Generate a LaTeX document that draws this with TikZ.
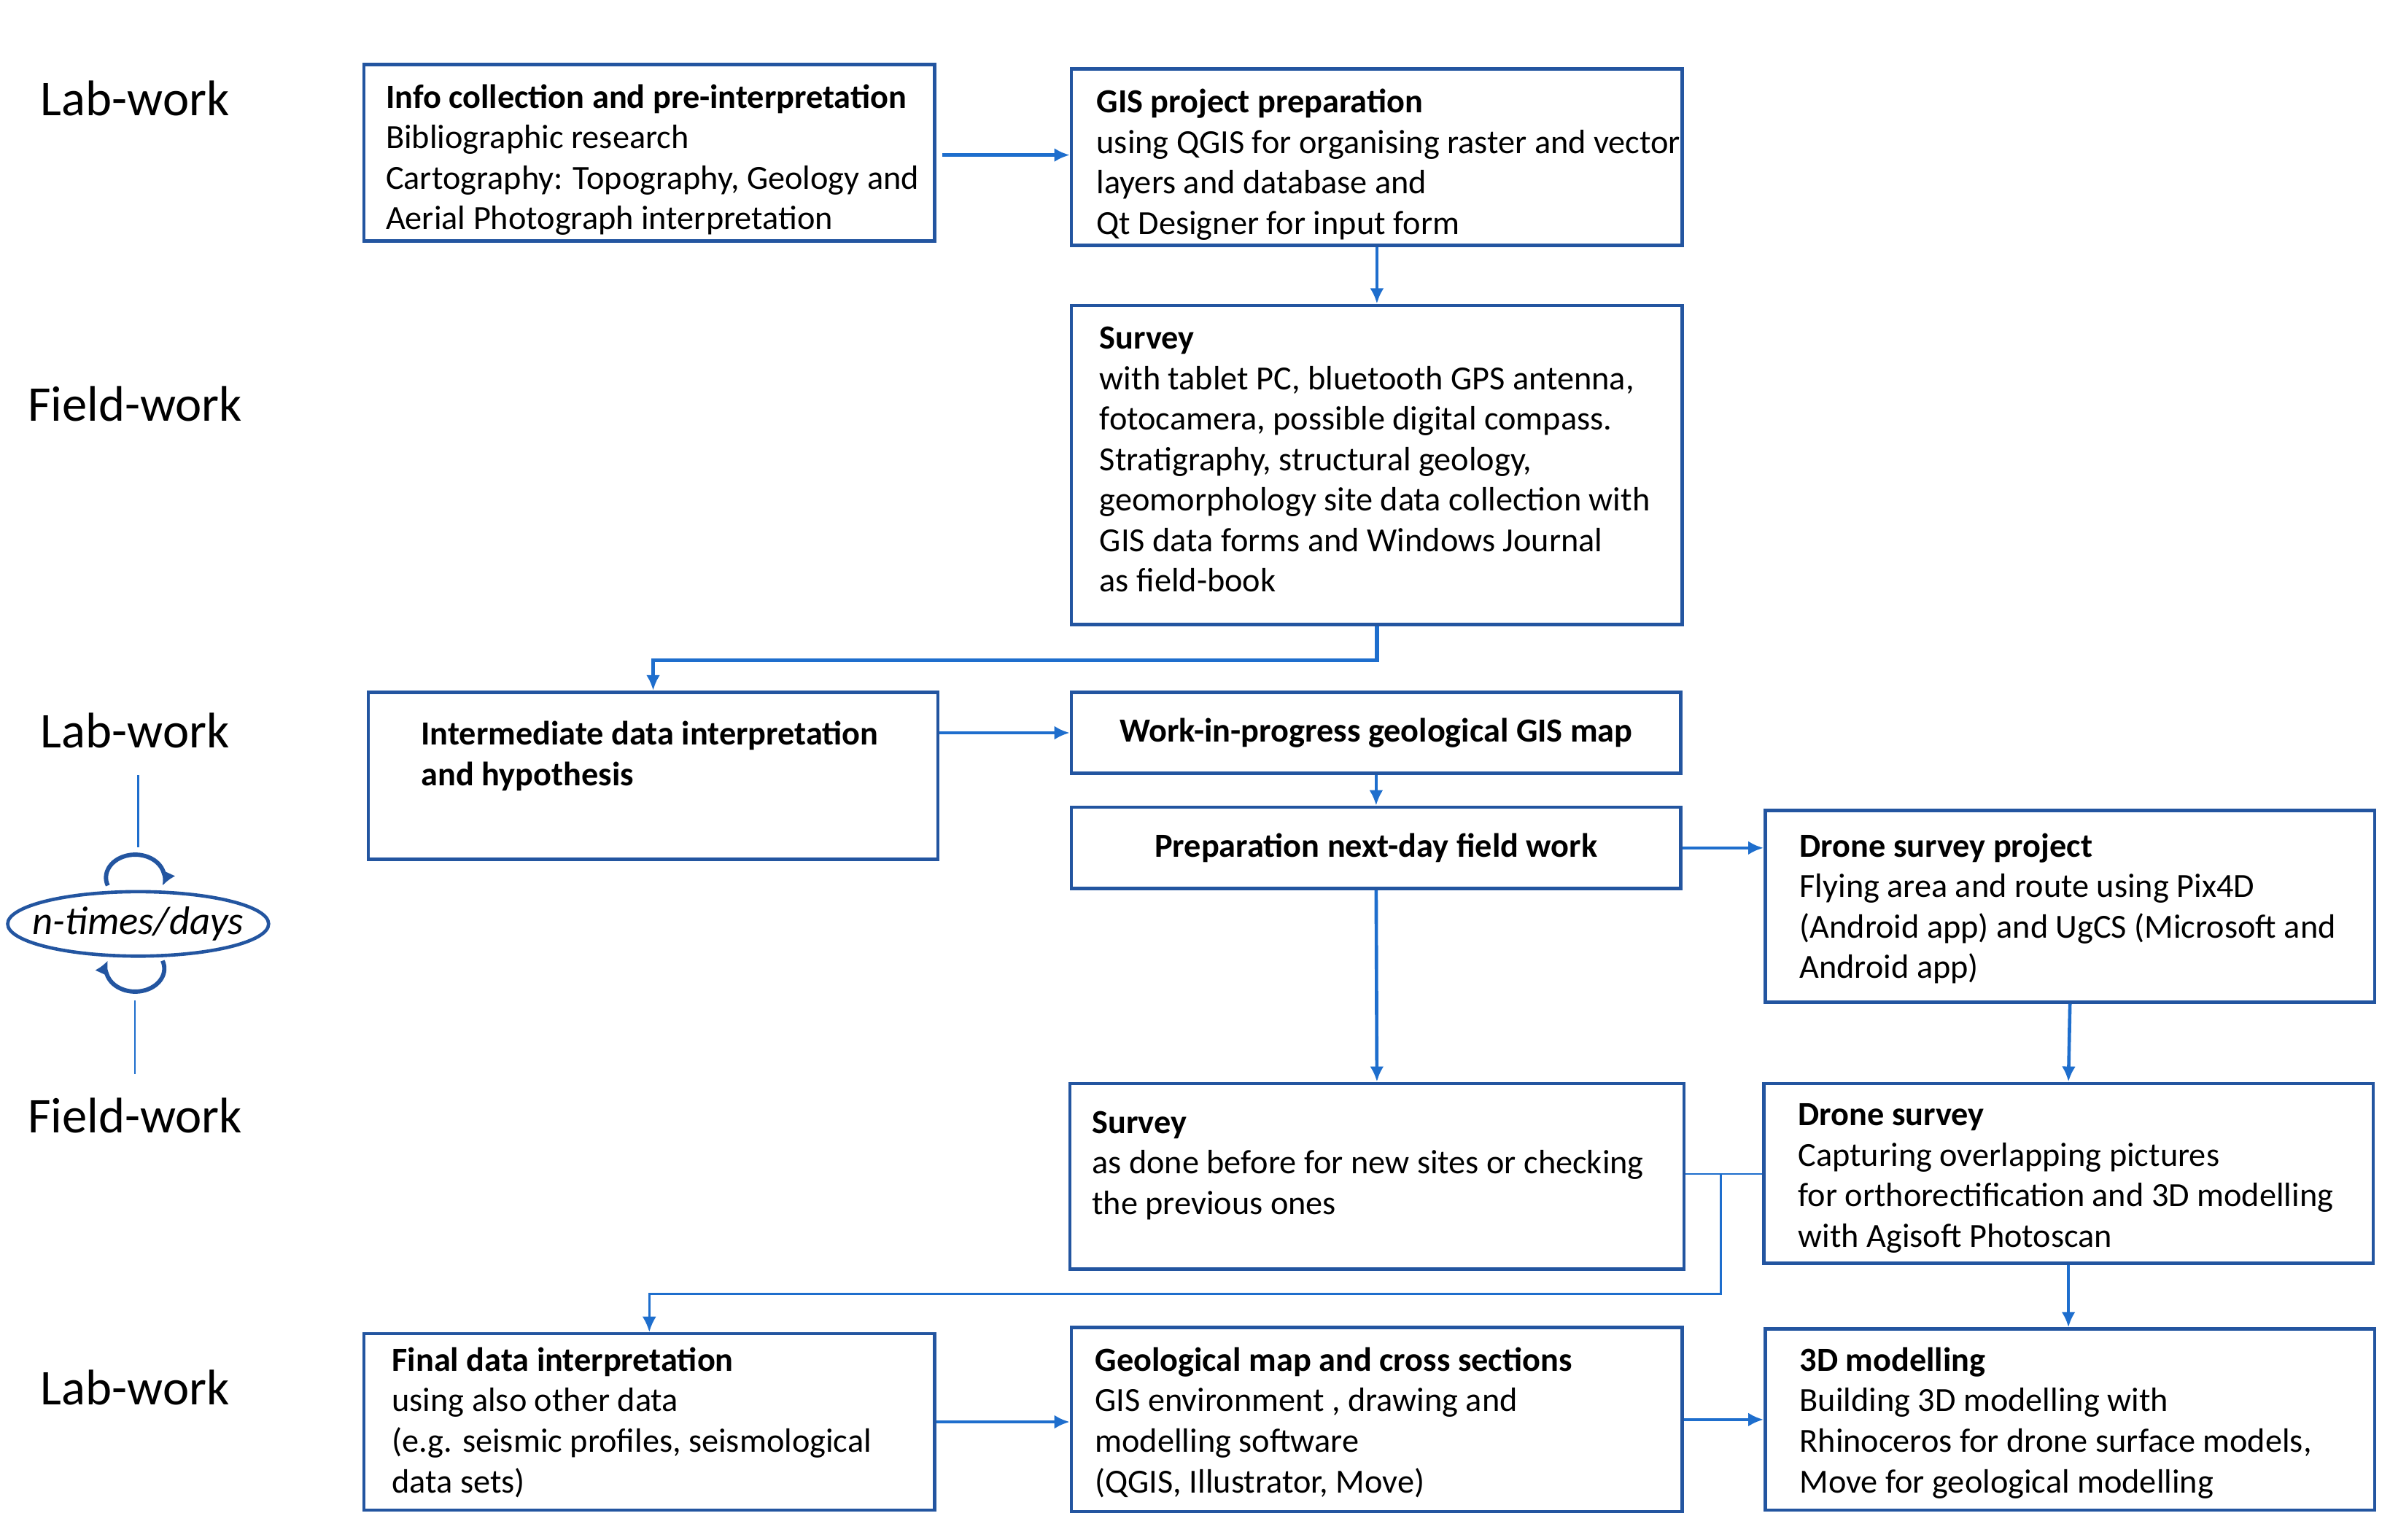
\documentclass[tikz,border=0pt]{standalone}
\usepackage{fontspec}
\setmainfont{Carlito}
\usetikzlibrary{arrows.meta,shapes.geometric,fit,calc}
\definecolor{boxblue}{RGB}{35,85,160}
\definecolor{arrblue}{RGB}{30,110,205}
\tikzset{
  box/.style={draw=boxblue, line width=1.1pt, inner sep=0pt, rectangle},
  txt/.style={anchor=north west, inner sep=0pt, align=left, font=\fontsize{11}{13.2}\selectfont},
  ctxt/.style={inner sep=0pt, font=\fontsize{11}{13.2}\selectfont\bfseries},
  lbl/.style={inner sep=0pt, font=\fontsize{16.3}{19}\selectfont},
  conn/.style={draw=arrblue, line width=1.1pt, -{Latex[length=5pt,width=4.5pt]}},
  thinconn/.style={draw=arrblue, line width=0.6pt},
  thinarrow/.style={draw=arrblue, line width=0.7pt, -{Latex[length=5pt,width=4.5pt]}},
  looparc/.style={draw=boxblue, line width=1.4pt, -{Latex[length=4.5pt,width=5pt]}},
}
\begin{document}
\begin{tikzpicture}[x=0.5pt,y=-0.5pt]
\useasboundingbox (0,0) rectangle (1557,1003);

% left labels
\node[lbl] (lab1) at (88,64) {Lab-work};
\node[lbl] (field1) at (88,263) {Field-work};
\node[lbl] (lab2) at (88,476) {Lab-work};
\node[lbl] (field2) at (88,727) {Field-work};
\node[lbl] (lab3) at (88,904) {Lab-work};

\node[draw=boxblue, line width=1.1pt, ellipse, minimum width=85pt, minimum height=21pt,
      inner sep=0pt] (loop) at (90,602) {};
\node[inner sep=0pt, font=\fontsize{13}{15}\selectfont\itshape] (loopt) at (loop.center) {n-times/days};

\coordinate (va) at (90,505);
\coordinate (vb) at (90,552);
\coordinate (vc) at (88,652);
\coordinate (vd) at (88,700);
\draw[thinconn] (va) -- (vb);
\draw[thinconn] (vc) -- (vd);
\coordinate (arcA) at (70.2,577);
\coordinate (arcB) at (105.9,626);
\draw[looparc] (arcA) arc[start angle=200, end angle=-20, x radius=9.5pt, y radius=7.5pt];
\draw[looparc] (arcB) arc[start angle=20, end angle=-200, x radius=9.5pt, y radius=7.5pt];

% boxes
\node[box, fit={(237,42) (609,157)}] (info) {};
\node[box, fit={(698,45) (1096,160)}] (gis) {};
\node[box, fit={(698,199) (1096,407)}] (surv1) {};
\node[box, fit={(240,451) (611,560)}] (interm) {};
\node[box, fit={(698,451) (1095,504)}] (wip) {};
\node[box, fit={(698,526) (1095,579)}] (prep) {};
\node[box, fit={(1150,528) (1547,653)}] (dproj) {};
\node[box, fit={(697,706) (1097,827)}] (surv2) {};
\node[box, fit={(1149,706) (1546,823)}] (dsurv) {};
\node[box, fit={(237,869) (609,984)}] (final) {};
\node[box, fit={(698,865) (1096,985)}] (geomap) {};
\node[box, fit={(1150,866) (1547,984)}] (model) {};

% texts
\node[txt] (infot) at (251,51.5) {\strut\textbf{Info collection and pre-interpretation}\\Bibliographic research\\Cartography: Topography, Geology and\\Aerial Photograph interpretation};
\node[txt] (gist) at (714,54.5) {\strut\textbf{GIS project preparation}\\using QGIS for organising raster and vector\\layers and database and\\Qt Designer for input form};
\node[txt] (surv1t) at (716,208.5) {\strut\textbf{Survey}\\with tablet PC, bluetooth GPS antenna,\\fotocamera, possible digital compass.\\Stratigraphy, structural geology,\\geomorphology site data collection with\\GIS data forms and Windows Journal\\as field-book};
\node[txt] (intermt) at (274,466.5) {\strut\textbf{Intermediate data interpretation}\\\textbf{and hypothesis}};
\node[ctxt] (wipt) at (wip.center) {Work-in-progress geological GIS map};
\node[ctxt] (prept) at (prep.center) {Preparation next-day field work};
\node[txt] (dprojt) at (1172,539.5) {\strut\textbf{Drone survey project}\\Flying area and route using Pix4D\\(Android app) and UgCS (Microsoft and\\Android app)};
\node[txt] (surv2t) at (711,719.5) {\strut\textbf{Survey}\\as done before for new sites or checking\\the previous ones};
\node[txt] (dsurvt) at (1171,714.5) {\strut\textbf{Drone survey}\\Capturing overlapping pictures\\for orthorectification and 3D modelling\\with Agisoft Photoscan};
\node[txt] (finalt) at (255,874.5) {\strut\textbf{Final data interpretation}\\using also other data\\(e.g. seismic profiles, seismological\\data sets)};
\node[txt] (geomapt) at (713,874.5) {\strut\textbf{Geological map and cross sections}\\GIS environment , drawing and\\modelling software\\(QGIS, Illustrator, Move)};
\node[txt] (modelt) at (1172,874.5) {\strut\textbf{3D modelling}\\Building 3D modelling with\\Rhinoceros for drone surface models,\\Move for geological modelling};

% connectors
\coordinate (infoout) at (614,101);
\draw[conn] (infoout) -- (infoout -| gis.west);
\draw[conn] (gis.south) -- (surv1.north);
\draw[conn, line width=1.3pt] (surv1.south) -- ++(0,22) -| (interm.north);
\draw[conn] (interm.east |- wip.west) -- (wip.west);
\draw[conn] (wip.south) -- (prep.north);
\draw[conn] (prep.east) -- (prep.east -| dproj.west);
\draw[conn] (prep.south) -- (surv2.north);
\draw[conn] (dproj.south) -- (dsurv.north);
\draw[conn] (dsurv.south) -- (dsurv.south |- model.north);
\draw[conn] (final.east) -- (final.east -| geomap.west);
\draw[conn] (geomap.east |- model.west) -- (model.west);

\coordinate (j1) at (1121,765);
\coordinate (j2) at (1121,843);
\draw[thinconn] (surv2.east |- j1) -- (dsurv.west |- j1);
\draw[thinarrow] (j1) -- (j2) -| (final.north);
\end{tikzpicture}
\end{document}
